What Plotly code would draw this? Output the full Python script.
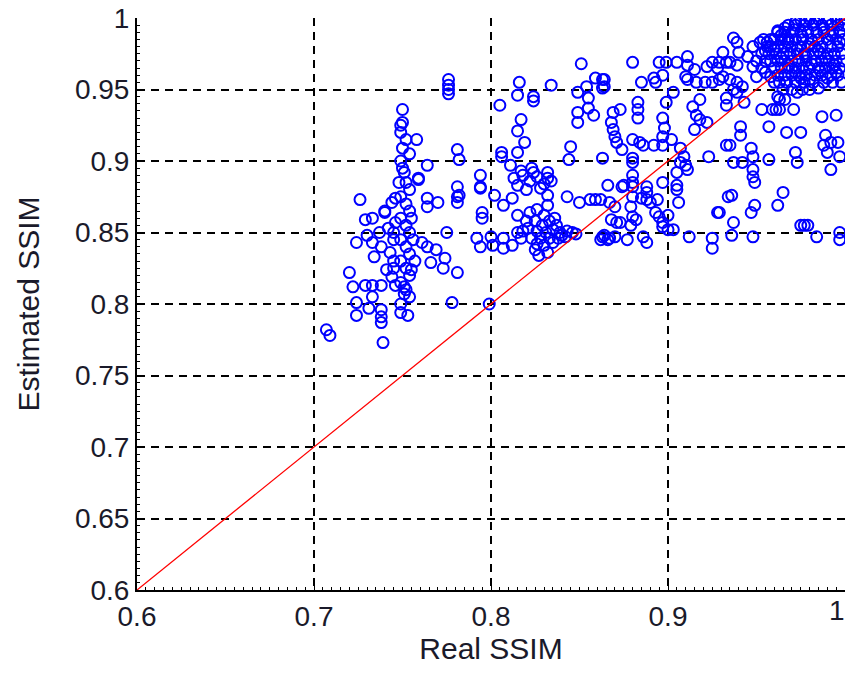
import plotly.graph_objects as go

# ---- data: (Real SSIM, Estimated SSIM) pairs ----
cluster_left = [
    (0.707,0.782),(0.709,0.778),(0.739,0.773),
    (0.720,0.822),(0.722,0.812),(0.729,0.813),(0.733,0.813),(0.738,0.813),(0.733,0.805),
    (0.724,0.801),(0.724,0.792),(0.731,0.797),(0.738,0.796),(0.738,0.791),(0.738,0.787),
    (0.749,0.794),(0.753,0.792),
    (0.726,0.873),(0.729,0.859),(0.733,0.860),(0.740,0.864),(0.746,0.857),(0.724,0.843),
    (0.733,0.843),(0.738,0.840),(0.734,0.833),(0.743,0.836),(0.741,0.824),(0.744,0.819),
    (0.755,0.824),(0.751,0.812),(0.751,0.807),(0.746,0.813),(0.746,0.874),(0.744,0.871),
    (0.740,0.865),(0.748,0.885),(0.751,0.892),(0.759,0.887),
    (0.761,0.843),(0.764,0.840),(0.769,0.838),(0.774,0.832),(0.766,0.829),(0.773,0.825),
    (0.775,0.850),(0.781,0.822),(0.778,0.801),(0.764,0.874),(0.770,0.871),(0.764,0.868),
    (0.781,0.882),
    (0.750,0.936),(0.750,0.927),(0.749,0.925),(0.758,0.915),(0.750,0.909),(0.781,0.908),
    (0.782,0.901),(0.764,0.897),(0.750,0.895),(0.759,0.888),(0.794,0.890),(0.781,0.875),
    (0.781,0.871),(0.794,0.881),(0.795,0.864),(0.795,0.860),
    (0.776,0.957),(0.776,0.953),(0.776,0.950),(0.776,0.947),
    (0.749,0.920),(0.752,0.915),(0.754,0.905),(0.749,0.900),(0.752,0.885),(0.754,0.880),
    (0.749,0.875),(0.752,0.870),(0.754,0.865),(0.749,0.860),(0.752,0.855),(0.754,0.850),
    (0.749,0.845),(0.752,0.840),(0.754,0.835),(0.749,0.830),(0.752,0.825),(0.754,0.820),
    (0.749,0.815),(0.752,0.810),(0.754,0.805),(0.749,0.800),
    (0.745,0.850),(0.745,0.845),(0.745,0.830),(0.745,0.825),
    (0.742,0.853),(0.737,0.850),(0.730,0.848),(0.755,0.860),(0.756,0.845),(0.757,0.830),
]

cluster_mid = [
    (0.851,0.968),(0.816,0.955),(0.834,0.953),(0.815,0.946),(0.824,0.945),(0.824,0.942),
    (0.805,0.939),(0.817,0.929),(0.815,0.921),(0.819,0.913),(0.806,0.906),(0.806,0.903),
    (0.815,0.906),(0.811,0.897),(0.823,0.895),(0.832,0.892),(0.832,0.888),(0.845,0.910),
    (0.844,0.901),(0.863,0.902),(0.849,0.948),(0.854,0.952),(0.859,0.958),(0.864,0.957),
    (0.864,0.952),(0.849,0.934),(0.849,0.927),(0.855,0.937),(0.858,0.932),(0.855,0.944),
    (0.813,0.888),(0.818,0.890),(0.822,0.886),(0.826,0.889),(0.830,0.884),(0.815,0.883),
    (0.820,0.880),(0.828,0.881),(0.834,0.886),(0.824,0.892),(0.817,0.893),
    (0.794,0.882),(0.802,0.876),(0.807,0.869),(0.812,0.874),(0.832,0.876),(0.832,0.869),
    (0.843,0.875),(0.850,0.871),(0.859,0.873),(0.862,0.873),(0.856,0.873),(0.815,0.862),
    (0.822,0.864),(0.826,0.866),(0.830,0.862),(0.825,0.858),(0.829,0.855),(0.833,0.858),
    (0.837,0.855),(0.821,0.853),(0.826,0.851),(0.831,0.850),(0.835,0.852),(0.839,0.850),
    (0.843,0.851),(0.846,0.850),(0.823,0.846),(0.828,0.846),(0.833,0.846),(0.838,0.846),
    (0.842,0.847),(0.826,0.842),(0.830,0.841),(0.835,0.843),(0.820,0.858),(0.818,0.851),
    (0.840,0.848),(0.848,0.849),(0.836,0.860),
    (0.792,0.846),(0.794,0.840),(0.800,0.847),(0.801,0.841),(0.807,0.846),(0.807,0.839),
    (0.812,0.841),(0.815,0.850),(0.817,0.846),(0.825,0.838),(0.827,0.834),(0.832,0.836),
    (0.863,0.847),(0.866,0.845),(0.782,0.876),(0.799,0.800),
]

cluster_right_mid = [
    (0.880,0.969),(0.895,0.969),(0.899,0.969),(0.905,0.969),(0.911,0.973),(0.911,0.967),
    (0.897,0.960),(0.885,0.955),(0.892,0.958),(0.893,0.955),(0.863,0.957),(0.863,0.951),
    (0.910,0.959),(0.911,0.957),(0.915,0.964),(0.916,0.955),(0.922,0.966),(0.925,0.969),
    (0.928,0.965),(0.931,0.976),(0.933,0.969),(0.921,0.955),(0.925,0.955),(0.929,0.957),
    (0.903,0.948),(0.883,0.941),(0.883,0.936),(0.883,0.930),(0.899,0.941),(0.914,0.938),
    (0.918,0.943),(0.869,0.934),(0.873,0.936),(0.868,0.927),(0.897,0.930),(0.898,0.923),
    (0.916,0.932),(0.918,0.929),(0.922,0.927),(0.915,0.922),(0.869,0.922),(0.870,0.917),
    (0.880,0.915),(0.884,0.913),(0.886,0.911),(0.897,0.917),(0.897,0.911),(0.902,0.915),
    (0.871,0.913),(0.874,0.908),(0.892,0.911),(0.907,0.909),(0.909,0.903),(0.923,0.903),
    (0.933,0.911),(0.880,0.902),(0.880,0.899),(0.907,0.899),(0.910,0.897),(0.911,0.894),
    (0.905,0.892),(0.905,0.883),(0.880,0.890),(0.880,0.885),(0.880,0.882),(0.866,0.883),
    (0.874,0.882),(0.888,0.882),(0.888,0.878),(0.888,0.873),(0.897,0.885),(0.905,0.880),
    (0.906,0.871),(0.870,0.868),(0.868,0.859),(0.880,0.875),(0.879,0.868),(0.880,0.861),
    (0.885,0.874),(0.890,0.871),(0.894,0.873),(0.893,0.864),(0.895,0.861),(0.897,0.857),
    (0.897,0.854),(0.873,0.857),(0.879,0.855),(0.882,0.859),(0.864,0.848),(0.867,0.846),
    (0.870,0.847),(0.886,0.847),(0.888,0.843),(0.903,0.852),(0.912,0.847),(0.925,0.846),
    (0.925,0.839),(0.928,0.864),(0.934,0.875),(0.867,0.871),(0.871,0.857),(0.877,0.845),
    (0.862,0.845),(0.900,0.862),(0.900,0.852),(0.875,0.883),
]

cluster_right_low = [
    (0.937,0.986),(0.939,0.983),(0.940,0.976),(0.952,0.983),(0.956,0.983),(0.929,0.969),
    (0.935,0.969),(0.939,0.967),(0.945,0.973),(0.948,0.966),(0.950,0.959),(0.931,0.959),
    (0.935,0.957),(0.939,0.955),(0.942,0.952),(0.955,0.962),(0.958,0.959),(0.960,0.955),
    (0.937,0.950),(0.939,0.948),(0.933,0.944),(0.933,0.939),(0.943,0.941),(0.962,0.945),
    (0.963,0.943),(0.966,0.943),(0.973,0.948),(0.980,0.950),(0.959,0.936),(0.961,0.936),
    (0.963,0.936),(0.953,0.936),(0.971,0.936),(0.957,0.924),(0.987,0.931),(0.995,0.932),
    (0.941,0.924),(0.941,0.918),(0.967,0.920),(0.975,0.920),(0.935,0.911),(0.947,0.909),
    (0.948,0.903),(0.972,0.906),(0.973,0.899),(0.989,0.918),(0.992,0.913),(0.988,0.911),
    (0.996,0.913),(0.990,0.906),(0.997,0.903),(0.937,0.899),(0.942,0.899),(0.957,0.901),
    (0.992,0.894),(0.948,0.894),(0.948,0.889),(0.949,0.885),(0.936,0.876),(0.965,0.878),
    (0.962,0.869),(0.949,0.869),(0.947,0.864),(0.937,0.857),(0.975,0.855),(0.977,0.855),
    (0.979,0.855),(0.936,0.848),(0.948,0.847),(0.984,0.847),(0.997,0.850),(0.997,0.845),
    (0.998,0.955),(0.929,0.864),
]

cluster_top = [
    (0.975,0.999),(0.980,0.999),(0.985,0.999),(0.990,0.999),(0.995,0.999),(0.998,0.999),(1.000,1.000),
    (0.968,0.995),(0.972,0.995),(0.977,0.995),(0.982,0.995),(0.987,0.995),(0.992,0.995),(0.996,0.995),(0.999,0.995),
    (0.962,0.990),(0.966,0.990),(0.970,0.990),(0.975,0.990),(0.979,0.990),(0.984,0.990),(0.988,0.990),(0.993,0.990),(0.997,0.990),
    (0.960,0.985),(0.964,0.985),(0.968,0.985),(0.972,0.985),(0.976,0.985),(0.981,0.985),(0.985,0.985),(0.990,0.985),(0.995,0.985),(0.999,0.985),
    (0.958,0.980),(0.962,0.980),(0.966,0.980),(0.970,0.980),(0.975,0.980),(0.979,0.980),(0.983,0.980),(0.987,0.980),(0.992,0.980),(0.996,0.980),
    (0.957,0.975),(0.961,0.975),(0.965,0.975),(0.969,0.975),(0.973,0.975),(0.977,0.975),(0.982,0.975),(0.986,0.975),(0.990,0.975),(0.994,0.975),(0.998,0.975),
    (0.958,0.970),(0.962,0.970),(0.966,0.970),(0.970,0.970),(0.974,0.970),(0.978,0.970),(0.983,0.970),(0.987,0.970),(0.991,0.970),(0.995,0.970),(0.999,0.970),
    (0.960,0.965),(0.964,0.965),(0.968,0.965),(0.972,0.965),(0.976,0.965),(0.980,0.965),(0.985,0.965),(0.989,0.965),(0.993,0.965),(0.997,0.965),
    (0.962,0.960),(0.966,0.960),(0.970,0.960),(0.974,0.960),(0.978,0.960),(0.983,0.960),(0.987,0.960),(0.992,0.960),(0.996,0.960),
    (0.963,0.955),(0.967,0.955),(0.972,0.955),(0.977,0.955),(0.982,0.955),(0.988,0.955),(0.993,0.955),
    (0.965,0.950),(0.970,0.950),(0.976,0.950),(0.985,0.951),
    (0.953,0.965),(0.955,0.970),(0.953,0.975),(0.956,0.980),(0.958,0.985),(0.962,0.991),(0.966,0.993),
    (0.972,0.997),(0.978,0.998),(0.955,0.977),(0.950,0.970),(0.948,0.980),(0.954,0.985),
    (0.964,0.988),(0.968,0.983),(0.973,0.978),(0.978,0.973),(0.981,0.968),(0.986,0.963),
    (0.971,0.992),(0.976,0.987),(0.980,0.982),(0.985,0.977),(0.989,0.972),(0.994,0.967),
    (0.983,0.997),(0.988,0.993),(0.992,0.988),(0.997,0.983),(0.960,0.978),(0.964,0.972),
    (0.968,0.967),(0.972,0.962),(0.975,0.958),(0.980,0.957),(0.990,0.958),(0.995,0.962),
]

diag_x = [0.6, 1.0]
diag_y = [0.6, 1.0]

x_ticks = [0.6, 0.7, 0.8, 0.9, 1.0]
x_tick_text = ["0.6", "0.7", "0.8", "0.9", "1"]
y_ticks = [0.6, 0.65, 0.7, 0.75, 0.8, 0.85, 0.9, 0.95, 1.0]
y_tick_text = ["0.6", "0.65", "0.7", "0.75", "0.8", "0.85", "0.9", "0.95", "1"]

points = cluster_left + cluster_mid + cluster_right_mid + cluster_right_low + cluster_top
real_ssim = [p[0] for p in points]
est_ssim = [p[1] for p in points]

fig = go.Figure()
fig.add_trace(go.Scatter(
    x=real_ssim, y=est_ssim, mode="markers",
    marker=dict(symbol="circle-open", size=11, color="#0000FF", line=dict(width=2, color="#0000FF")),
    showlegend=False, cliponaxis=True,
))
fig.add_trace(go.Scatter(
    x=diag_x, y=diag_y, mode="lines",
    line=dict(color="#FF0000", width=1.3), showlegend=False,
))

tick_font = dict(family="Liberation Sans, Arial, sans-serif", size=28, color="#1a1a2a")
title_font = dict(family="Liberation Sans, Arial, sans-serif", size=30, color="#1a1a2a")
fig.update_layout(
    width=848, height=673,
    margin=dict(l=137, r=3, t=18, b=83),
    paper_bgcolor="white", plot_bgcolor="white",
    font=tick_font,
    xaxis=dict(
        range=[0.6, 1.0], tickvals=x_ticks, ticktext=x_tick_text,
        showgrid=True, gridcolor="black", gridwidth=1.6, griddash="8px,6px",
        zeroline=False, showline=True, linecolor="black", linewidth=2, mirror=False,
        ticks="inside", ticklen=6, tickcolor="black",
        minor=dict(dtick=0.005, ticks="inside", ticklen=3, tickcolor="black", showgrid=False),
        title=dict(text="Real SSIM", font=title_font, standoff=6),
        tickfont=tick_font,
    ),
    yaxis=dict(
        range=[0.6, 1.0], tickvals=y_ticks, ticktext=y_tick_text,
        showgrid=True, gridcolor="black", gridwidth=1.6, griddash="8px,6px",
        zeroline=False, showline=True, linecolor="black", linewidth=2, mirror=False,
        ticks="inside", ticklen=6, tickcolor="black",
        minor=dict(dtick=0.005, ticks="inside", ticklen=3, tickcolor="black", showgrid=False),
        title=dict(text="Estimated SSIM", font=title_font, standoff=26),
        tickfont=tick_font,
    ),
    annotations=[dict(
        x=x_ticks[-1], xref="x", y=0, yref="paper", text=x_tick_text[-1],
        showarrow=False, xanchor="right", yanchor="top", yshift=-3, xshift=2,
        font=tick_font,
    )],
)

fig.write_html("out.html")
